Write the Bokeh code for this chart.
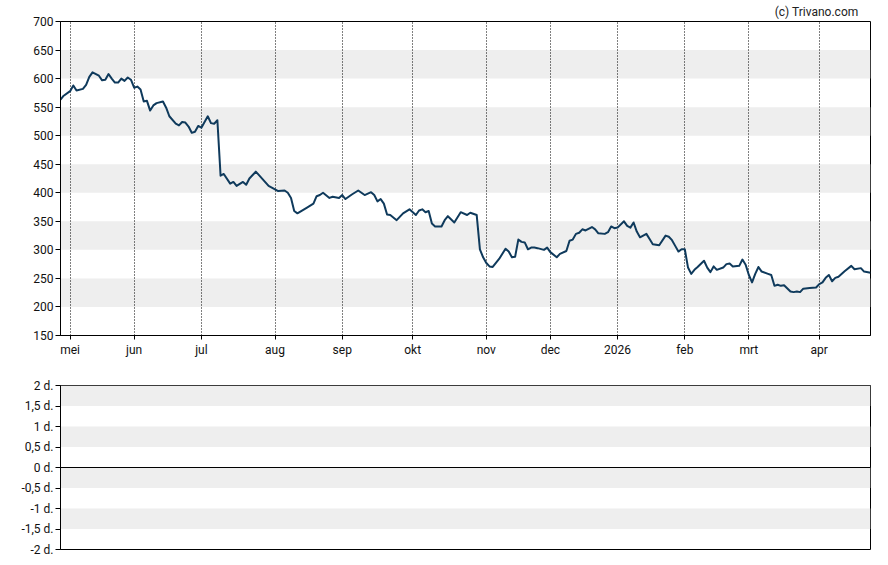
import numpy as np
from bokeh.plotting import figure
from bokeh.layouts import column
from bokeh.models import (Range1d, FixedTicker, CustomJSTickFormatter, BoxAnnotation,
                          Span, ColumnDataSource)
from bokeh.embed import file_html
from bokeh.resources import INLINE

# ---------------- data ----------------
START = "2025-04-28"
HOLIDAYS = ["2025-05-01", "2025-05-29", "2025-12-25", "2025-12-26",
            "2026-01-01", "2026-04-03", "2026-04-06"]

dates = [
    "2025-04-28", "2025-04-29", "2025-05-02", "2025-05-05", "2025-05-06", "2025-05-08", "2025-05-09",
    "2025-05-12", "2025-05-13", "2025-05-15", "2025-05-16", "2025-05-19", "2025-05-20", "2025-05-21",
    "2025-05-22", "2025-05-23", "2025-05-26", "2025-05-27", "2025-05-28", "2025-05-30",
    "2025-06-02", "2025-06-03", "2025-06-04", "2025-06-05", "2025-06-06", "2025-06-09", "2025-06-10",
    "2025-06-11", "2025-06-13", "2025-06-16", "2025-06-17", "2025-06-19", "2025-06-20", "2025-06-23",
    "2025-06-24", "2025-06-25", "2025-06-26", "2025-06-27", "2025-06-30",
    "2025-07-01", "2025-07-02", "2025-07-03", "2025-07-04", "2025-07-07", "2025-07-08", "2025-07-09",
    "2025-07-10", "2025-07-14", "2025-07-15", "2025-07-16", "2025-07-18", "2025-07-21", "2025-07-22",
    "2025-07-24", "2025-07-25", "2025-07-30", "2025-07-31",
    "2025-08-04", "2025-08-06", "2025-08-07", "2025-08-08", "2025-08-11", "2025-08-12", "2025-08-15",
    "2025-08-19", "2025-08-20", "2025-08-21", "2025-08-22", "2025-08-26", "2025-08-27", "2025-08-29",
    "2025-09-01", "2025-09-02", "2025-09-04", "2025-09-08", "2025-09-10", "2025-09-12", "2025-09-15",
    "2025-09-16", "2025-09-17", "2025-09-18", "2025-09-19", "2025-09-22", "2025-09-24", "2025-09-26",
    "2025-09-30",
    "2025-10-02", "2025-10-03", "2025-10-06", "2025-10-07", "2025-10-08", "2025-10-09", "2025-10-10",
    "2025-10-14", "2025-10-15", "2025-10-16", "2025-10-20", "2025-10-22", "2025-10-24", "2025-10-27",
    "2025-10-29", "2025-10-30", "2025-10-31",
    "2025-11-03", "2025-11-04", "2025-11-05", "2025-11-07", "2025-11-11", "2025-11-12", "2025-11-13",
    "2025-11-14", "2025-11-17", "2025-11-18", "2025-11-19", "2025-11-20", "2025-11-21", "2025-11-24",
    "2025-11-25", "2025-11-27", "2025-11-28",
    "2025-12-01", "2025-12-03", "2025-12-04", "2025-12-08", "2025-12-09", "2025-12-10", "2025-12-11",
    "2025-12-12", "2025-12-15", "2025-12-16", "2025-12-18", "2025-12-19", "2025-12-22", "2025-12-24",
    "2025-12-29", "2025-12-30", "2025-12-31",
    "2026-01-02", "2026-01-06", "2026-01-07", "2026-01-08", "2026-01-09", "2026-01-12", "2026-01-13",
    "2026-01-15", "2026-01-16", "2026-01-19", "2026-01-21", "2026-01-23", "2026-01-26", "2026-01-27",
    "2026-01-28", "2026-01-29", "2026-01-30",
    "2026-02-02", "2026-02-03", "2026-02-04", "2026-02-05", "2026-02-06", "2026-02-10", "2026-02-11",
    "2026-02-12", "2026-02-13", "2026-02-16", "2026-02-18", "2026-02-19", "2026-02-20", "2026-02-23",
    "2026-02-25", "2026-02-26", "2026-02-27",
    "2026-03-02", "2026-03-03", "2026-03-04", "2026-03-05", "2026-03-06", "2026-03-10", "2026-03-11",
    "2026-03-12", "2026-03-13", "2026-03-16", "2026-03-17", "2026-03-19", "2026-03-20", "2026-03-23",
    "2026-03-24", "2026-03-25", "2026-03-27", "2026-03-31",
    "2026-04-01", "2026-04-02", "2026-04-07", "2026-04-08", "2026-04-09", "2026-04-10", "2026-04-13",
    "2026-04-15", "2026-04-17", "2026-04-20", "2026-04-22", "2026-04-23", "2026-04-27",
]

closes = [
    563, 570, 578, 588, 579, 582, 589,
    603, 611, 605, 597, 598, 608, 600,
    593, 593, 600, 596, 602, 598,
    584, 586, 581, 560, 561, 544, 553,
    557, 560, 549, 534, 521, 518, 524,
    523, 516, 505, 507, 517,
    514, 524, 534, 522, 521, 527, 430,
    433, 416, 419, 412, 419, 414, 425,
    437, 431, 412, 409,
    403, 404, 400, 391, 368, 364, 374,
    381, 394, 396, 400, 391, 393, 391,
    396, 389, 397, 404, 396, 401, 396,
    385, 389, 381, 362, 361, 352, 364,
    371,
    361, 369, 371, 366, 368, 346, 341,
    341, 352, 359, 348, 366, 361, 365,
    361, 301, 287,
    277, 271, 270, 284, 302, 297, 287,
    288, 318, 314, 313, 301, 304, 304,
    303, 300, 304,
    296, 287, 293, 298, 316, 318, 328,
    330, 336, 334, 340, 336, 329, 328,
    331, 341, 338,
    339, 350, 342, 339, 348, 332, 322,
    328, 319, 310, 308, 325, 323, 317,
    307, 297, 301,
    301, 269, 258, 265, 270, 281, 269,
    261, 271, 265, 269, 275, 276, 271,
    272, 283, 274,
    256, 243, 258, 270, 262, 258, 256,
    237, 239, 237, 238, 227, 226, 227,
    226, 232, 233, 234,
    240, 243, 251, 256, 245, 251, 253,
    263, 272, 266, 268, 262, 260,
]

month_dates = ["2025-05-02", "2025-06-02", "2025-07-01", "2025-08-01", "2025-09-01", "2025-10-01",
               "2025-11-03", "2025-12-01", "2026-01-02", "2026-02-02", "2026-03-02", "2026-04-01"]
month_labels = ["mei", "jun", "jul", "aug", "sep", "okt", "nov", "dec", "2026", "feb", "mrt", "apr"]

y_ticks = [150, 200, 250, 300, 350, 400, 450, 500, 550, 600, 650, 700]
y2_ticks = [-2, -1.5, -1, -0.5, 0, 0.5, 1, 1.5, 2]
y2_labels = ["-2 d.", "-1,5 d.", "-1 d.", "-0,5 d.", "0 d.", "0,5 d.", "1 d.", "1,5 d.", "2 d."]

COPYRIGHT = "(c) Trivano.com"


def trading_index(ds):
    arr = np.array(ds, dtype="datetime64[D]")
    return np.busday_count(np.datetime64(START), arr, holidays=HOLIDAYS)


x_idx = [int(v) for v in trading_index(dates)]
month_idx = [int(v) for v in trading_index(month_dates)]

FONT = "Roboto"
FS = "12px"
LINE_COLOR = "#0f3a5c"
BAND = "#eeeeee"
FMT_CODE = "const i = tvals.indexOf(tick); return i >= 0 ? tlabels[i] : '';"

src = ColumnDataSource(dict(x=x_idx, y=closes))

# ---------------- top panel ----------------
p1 = figure(width=880, height=363, output_backend="svg", toolbar_location=None,
            x_range=Range1d(0, x_idx[-1]), y_range=Range1d(y_ticks[0], y_ticks[-1]),
            min_border_left=60, min_border_right=10, min_border_top=20, min_border_bottom=28,
            background_fill_color="white", border_fill_color="white",
            title=COPYRIGHT, title_location="above")
p1.title.align = "right"
p1.title.text_font = FONT
p1.title.text_font_size = FS
p1.title.text_font_style = "normal"
p1.title.text_color = "#222222"
p1.title.standoff = 5
p1.title.offset = 12
p1.outline_line_color = "black"
p1.outline_line_width = 1

xt = FixedTicker(ticks=month_idx)
p1.xaxis.ticker = xt
p1.xaxis.formatter = CustomJSTickFormatter(args=dict(tvals=month_idx, tlabels=month_labels), code=FMT_CODE)
p1.yaxis.ticker = FixedTicker(ticks=y_ticks)
for ax in (p1.xaxis[0], p1.yaxis[0]):
    ax.axis_line_color = "black"
    ax.major_tick_line_color = "black"
    ax.minor_tick_line_color = None
    ax.major_tick_in = 0
    ax.major_label_text_font = FONT
    ax.major_label_text_font_size = FS
    ax.major_label_text_color = "#111111"
p1.xaxis.major_tick_out = 4
p1.xaxis.major_label_standoff = 3
p1.yaxis.major_tick_out = 5
p1.yaxis.major_label_standoff = 2

p1.xgrid.ticker = xt
p1.xgrid.grid_line_color = "black"
p1.xgrid.grid_line_dash = "1 2"
p1.xgrid.grid_line_width = 1
p1.ygrid.grid_line_color = None

bands1 = [BoxAnnotation(bottom=b, top=t, fill_color=BAND, fill_alpha=1, line_color=None, level="underlay")
          for b, t in zip(y_ticks[1::2], y_ticks[2::2])]
p1.center = bands1 + list(p1.center)

p1.line("x", "y", source=src, line_color=LINE_COLOR, line_width=2, line_join="round")

# ---------------- bottom panel ----------------
p2 = figure(width=880, height=194, output_backend="svg", toolbar_location=None,
            x_range=p1.x_range, y_range=Range1d(y2_ticks[0], y2_ticks[-1]),
            x_axis_location=None,
            min_border_left=60, min_border_right=10, min_border_top=22, min_border_bottom=8,
            background_fill_color="white", border_fill_color="white")
p2.outline_line_color = "black"
p2.outline_line_width = 1
p2.xgrid.grid_line_color = None
p2.ygrid.grid_line_color = None
p2.yaxis.ticker = FixedTicker(ticks=y2_ticks)
p2.yaxis.formatter = CustomJSTickFormatter(args=dict(tvals=y2_ticks, tlabels=y2_labels), code=FMT_CODE)
ax2 = p2.yaxis[0]
ax2.axis_line_color = "black"
ax2.major_tick_line_color = "black"
ax2.minor_tick_line_color = None
ax2.major_tick_in = 0
ax2.major_tick_out = 5
ax2.major_label_standoff = 2
ax2.major_label_text_font = FONT
ax2.major_label_text_font_size = FS
ax2.major_label_text_color = "#111111"

bands2 = [BoxAnnotation(bottom=b, top=t, fill_color=BAND, fill_alpha=1, line_color=None, level="underlay")
          for b, t in zip(y2_ticks[1::2], y2_ticks[2::2])]
p2.center = bands2 + list(p2.center)
p2.add_layout(Span(location=0, dimension="width", line_color="black", line_width=1))

layout = column(p1, p2, spacing=0)
open("out.html", "w").write(file_html(layout, INLINE))
